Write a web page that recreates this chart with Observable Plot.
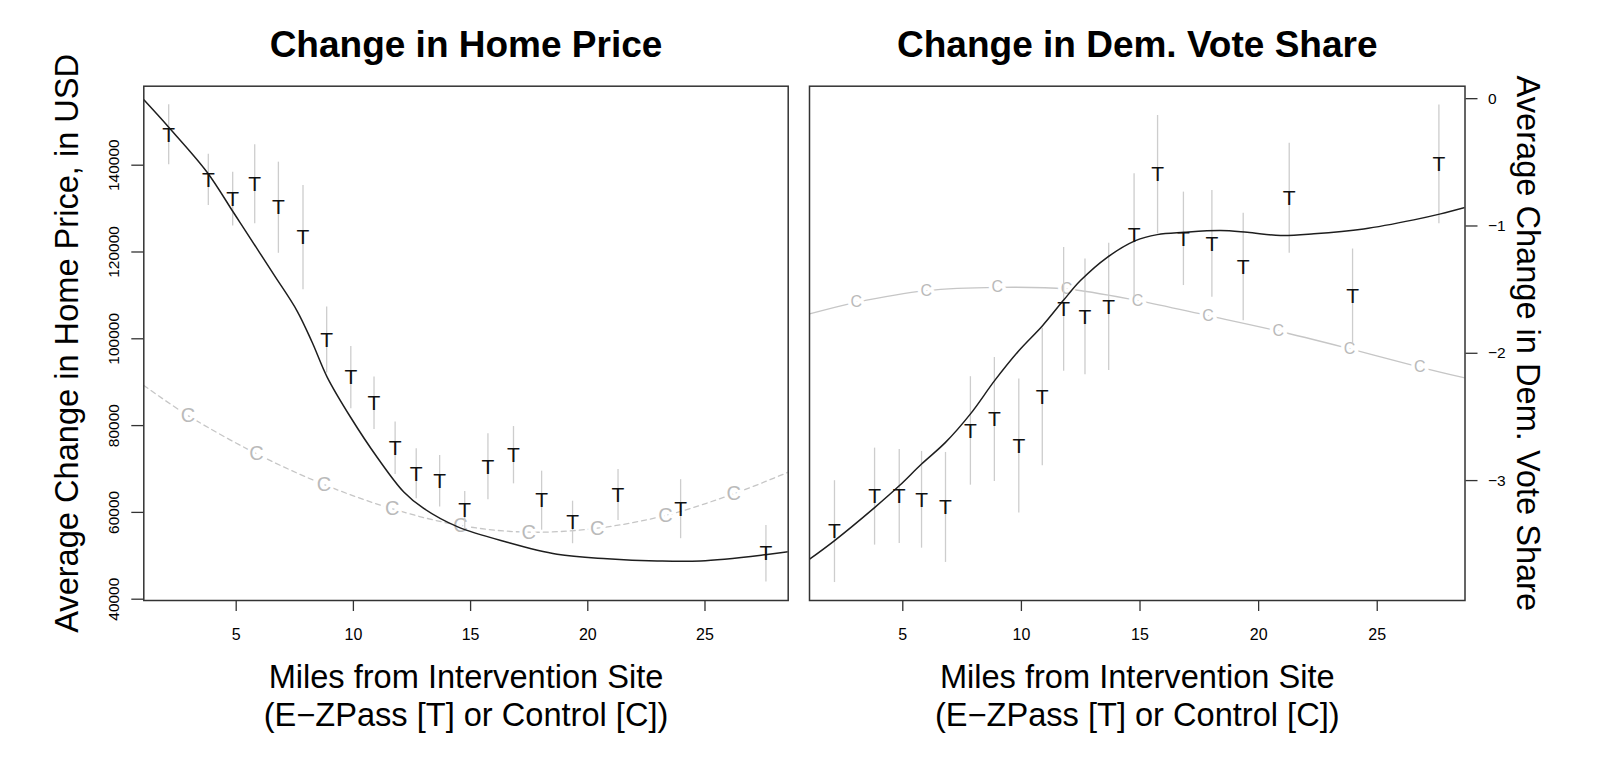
<!DOCTYPE html>
<html>
<head>
<meta charset="utf-8">
<script src="https://cdn.jsdelivr.net/npm/d3@7"></script>
<script src="https://cdn.jsdelivr.net/npm/@observablehq/plot@0.6"></script>
<style>
  html, body { margin: 0; padding: 0; background: #fff; }
  #row { display: flex; width: 1600px; height: 775px; overflow: hidden; }
  #row svg { display: block; }
  #row g[aria-label="x-axis tick label"] text { font-size: 16px; }
  #row g[aria-label="y-axis tick label"] text { font-size: 15.5px; }
</style>
</head>
<body>
<div id="row"></div>
<script>
// ---------- data ----------
// distance bins (miles) for the treatment (E-ZPass) means
const binMiles = [2.12, 3.81, 4.85, 5.79, 6.80, 7.85, 8.86, 9.89, 10.88, 11.78, 12.68, 13.68, 14.75, 15.74, 16.83, 18.03, 19.35, 21.29, 23.96, 27.6];

// Left panel: change in home price (USD)
const priceT     = [147000, 136600, 132200, 135600, 130200, 123300, 99700, 91040, 85140, 74770, 68900, 67170, 60500, 70510, 73180, 62700, 57680, 64010, 60740, 50470];
const priceTHalf = [6900, 5900, 6200, 9100, 10500, 12000, 7600, 7180, 6030, 6030, 5760, 5950, 4300, 7600, 6600, 6800, 4900, 5900, 6800, 6500];
const priceFitX  = [1.06, 2.12, 3.76, 4.83, 5.18, 6.60, 7.60, 8.24, 8.88, 9.88, 11.02, 12.15, 13.0, 14.43, 16.56, 18.69, 20.83, 22.96, 24.81, 27.65, 28.55];
const priceFitY  = [155070, 148760, 138390, 129560, 126660, 114840, 106400, 99200, 91180, 81920, 72650, 64700, 60900, 56710, 53120, 50350, 49320, 48810, 48810, 50300, 50930];
const priceCtrlX = [1.06, 2.94, 5.87, 8.74, 11.66, 14.57, 17.48, 20.40, 23.31, 26.23, 28.55];
const priceCtrlY = [89240, 82330, 73510, 66430, 60830, 56980, 55440, 56360, 59290, 64290, 69270];
const priceCtrlMarks = [false, true, true, true, true, true, true, true, true, true, false];
const priceTicks = [40000, 60000, 80000, 100000, 120000, 140000];

// Right panel: change in Democratic vote share
const voteT     = [-3.401, -3.126, -3.125, -3.151, -3.211, -2.610, -2.520, -2.728, -2.344, -1.655, -1.714, -1.636, -1.075, -0.597, -1.101, -1.141, -1.322, -0.782, -1.554, -0.516];
const voteTHalf = [0.40, 0.381, 0.369, 0.38, 0.432, 0.426, 0.487, 0.526, 0.54, 0.486, 0.455, 0.50, 0.485, 0.465, 0.367, 0.419, 0.422, 0.432, 0.373, 0.467];
const voteFitX  = [1.07, 2.11, 3.81, 4.85, 5.79, 6.80, 7.87, 8.87, 9.89, 10.89, 11.79, 12.49, 13.62, 14.81, 15.73, 16.85, 18.39, 19.52, 20.92, 22.33, 24.43, 26.54, 27.67, 28.70];
const voteFitY  = [-3.617, -3.473, -3.212, -3.041, -2.870, -2.700, -2.472, -2.215, -1.980, -1.783, -1.58, -1.429, -1.246, -1.115, -1.068, -1.050, -1.036, -1.050, -1.075, -1.062, -1.023, -0.952, -0.905, -0.855];
const voteCtrlX = [1.07, 3.04, 5.99, 8.98, 11.90, 14.90, 17.87, 20.83, 23.83, 26.79, 28.70];
const voteCtrlY = [-1.691, -1.600, -1.508, -1.482, -1.495, -1.586, -1.704, -1.825, -1.964, -2.108, -2.194];
const voteCtrlMarks = [false, true, true, true, true, true, true, true, true, true, false];
const voteTicks = [0, -1, -2, -3];

const xTicks = [5, 10, 15, 20, 25];
const titles = ["Change in Home Price", "Change in Dem. Vote Share"];
const xLabel1 = "Miles from Intervention Site";
const xLabel2 = "(E\u2212ZPass [T] or Control [C])";
const yLabels = ["Average Change in Home Price, in USD", "Average Change in Dem. Vote Share"];

// ---------- tables ----------
const zip2 = (xs, ys) => xs.map((x, i) => ({x, y: ys[i]}));
const tPrice = binMiles.map((x, i) => ({x, y: priceT[i], lo: priceT[i] - priceTHalf[i], hi: priceT[i] + priceTHalf[i]}));
const tVote  = binMiles.map((x, i) => ({x, y: voteT[i], lo: voteT[i] - voteTHalf[i], hi: voteT[i] + voteTHalf[i]}));
const fitPrice = zip2(priceFitX, priceFitY);
const fitVote  = zip2(voteFitX, voteFitY);
const ctrlPrice = zip2(priceCtrlX, priceCtrlY);
const ctrlVote  = zip2(voteCtrlX, voteCtrlY);
const ctrlPriceMarks = ctrlPrice.filter((d, i) => priceCtrlMarks[i]);
const ctrlVoteMarks  = ctrlVote.filter((d, i) => voteCtrlMarks[i]);

const FONT = "'Liberation Sans', Arial, Helvetica, sans-serif";
const AXIS = "#333";
const BAR = "#cdcdcd";
const CCOL = "#bababa";

function labelMarks(i) {
  return [
    Plot.text([titles[i]], {text: d => d, frameAnchor: "top", textAnchor: "middle", lineAnchor: "middle", dy: -41, fontSize: 37, fontWeight: "bold"}),
    Plot.text([xLabel1], {text: d => d, frameAnchor: "bottom", textAnchor: "middle", lineAnchor: "middle", dy: 77, fontSize: 32.6}),
    Plot.text([xLabel2], {text: d => d, frameAnchor: "bottom", textAnchor: "middle", lineAnchor: "middle", dy: 115, fontSize: 32.6}),
    i === 0
      ? Plot.text([yLabels[0]], {text: d => d, frameAnchor: "left", textAnchor: "middle", lineAnchor: "middle", rotate: -90, dx: -76, fontSize: 32.6})
      : Plot.text([yLabels[1]], {text: d => d, frameAnchor: "right", textAnchor: "middle", lineAnchor: "middle", rotate: 90, dx: 62.5, fontSize: 32.6})
  ];
}

const left = Plot.plot({
  width: 798, height: 775,
  marginLeft: 143.3, marginRight: 10.3, marginTop: 85.7, marginBottom: 175,
  style: {fontFamily: FONT, fontSize: "16px", background: "white", color: "#000", overflow: "visible"},
  x: {domain: [1.058, 28.55]},
  y: {domain: [39700, 158200]},
  marks: [
    Plot.line(ctrlPrice, {x: "x", y: "y", stroke: "#c6c6c6", strokeWidth: 1.3, strokeDasharray: "5,4", curve: "catmull-rom", clip: true}),
    Plot.text(ctrlPriceMarks, {x: "x", y: "y", text: () => "C", fill: CCOL, fontSize: 20, stroke: "white", strokeWidth: 6, paintOrder: "stroke"}),
    Plot.ruleX(tPrice, {x: "x", y1: "lo", y2: "hi", stroke: BAR, strokeWidth: 1.3}),
    Plot.line(fitPrice, {x: "x", y: "y", stroke: "#1e1e1e", strokeWidth: 1.5, curve: "catmull-rom", clip: true}),
    Plot.text(tPrice, {x: "x", y: "y", text: () => "T", fill: "#111", fontSize: 21}),
    Plot.frame({stroke: AXIS, strokeWidth: 1.5}),
    Plot.axisX({ticks: xTicks, tickSize: 11, tickPadding: 17, stroke: AXIS, strokeWidth: 1.3, label: null}),
    Plot.axisY({ticks: priceTicks, tickFormat: d3.format("d"), tickRotate: -90, tickSize: 12, tickPadding: 13, stroke: AXIS, strokeWidth: 1.3, label: null}),
    ...labelMarks(0)
  ]
});

const right = Plot.plot({
  width: 802, height: 775,
  marginLeft: 11, marginRight: 135.5, marginTop: 85.7, marginBottom: 175,
  style: {fontFamily: FONT, fontSize: "16px", background: "white", color: "#000", overflow: "visible"},
  x: {domain: [1.067, 28.70]},
  y: {domain: [-3.942, 0.098]},
  marks: [
    Plot.line(ctrlVote, {x: "x", y: "y", stroke: "#c6c6c6", strokeWidth: 1.3, curve: "catmull-rom", clip: true}),
    Plot.text(ctrlVoteMarks, {x: "x", y: "y", text: () => "C", fill: CCOL, fontSize: 16, stroke: "white", strokeWidth: 7, paintOrder: "stroke"}),
    Plot.ruleX(tVote, {x: "x", y1: "lo", y2: "hi", stroke: BAR, strokeWidth: 1.3}),
    Plot.line(fitVote, {x: "x", y: "y", stroke: "#1e1e1e", strokeWidth: 1.5, curve: "catmull-rom", clip: true}),
    Plot.text(tVote, {x: "x", y: "y", text: () => "T", fill: "#111", fontSize: 21}),
    Plot.frame({stroke: AXIS, strokeWidth: 1.5}),
    Plot.axisX({ticks: xTicks, tickSize: 11, tickPadding: 17, stroke: AXIS, strokeWidth: 1.3, label: null}),
    Plot.axisY({anchor: "right", ticks: voteTicks, tickFormat: d3.format("d"), tickSize: 12, tickPadding: 11, stroke: AXIS, strokeWidth: 1.3, label: null}),
    ...labelMarks(1)
  ]
});

const row = document.getElementById("row");
row.appendChild(left);
row.appendChild(right);
</script>
</body>
</html>
